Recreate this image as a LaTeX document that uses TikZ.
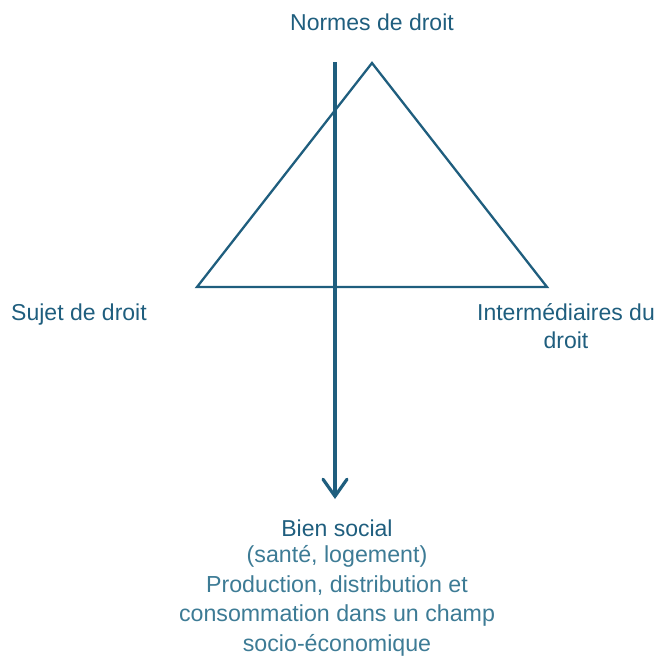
\documentclass[tikz,border=0pt]{standalone}
\usepackage{fontspec}
\setmainfont{Liberation Sans}
\usetikzlibrary{arrows.meta}
\definecolor{dteal}{HTML}{1F5E7E}
\definecolor{lteal}{HTML}{3D7B95}
\begin{document}
\begin{tikzpicture}[x=1pt,y=-1pt,
  lbl/.style={text=dteal,font=\fontsize{23}{28.5}\selectfont,align=center,inner sep=0pt},
  body/.style={text=lteal,font=\fontsize{23.2}{29.5}\selectfont,align=center,inner sep=0pt},
  edge/.style={draw=dteal,line width=2.3pt,line join=miter},
  axis/.style={draw=dteal,line width=3.2pt,-{Straight Barb[length=17pt,width=24pt,line cap=round]}}]
\useasboundingbox (0,0) rectangle (657,657);
\coordinate (apex) at (372,63);
\coordinate (bl) at (197,287);
\coordinate (br) at (547,287);
\coordinate (top) at (335,62);
\node[lbl] (normes) at (372,22) {Normes de droit};
\node[lbl] (sujet) at (79,315) {Sujet de droit};
\node[lbl] (inter) at (566,326) {Intermédiaires du\\droit};
\node[lbl] (bien) at (337,528) {Bien social};
\node[body] (desc) at (337,601) {(santé, logement)\\Production, distribution et\\consommation dans un champ\\socio-économique};
\coordinate (tip) at (335,499);
\draw[edge] (apex) -- (br) -- (bl) -- cycle;
\draw[axis] (top) -- (tip);
\end{tikzpicture}
\end{document}
